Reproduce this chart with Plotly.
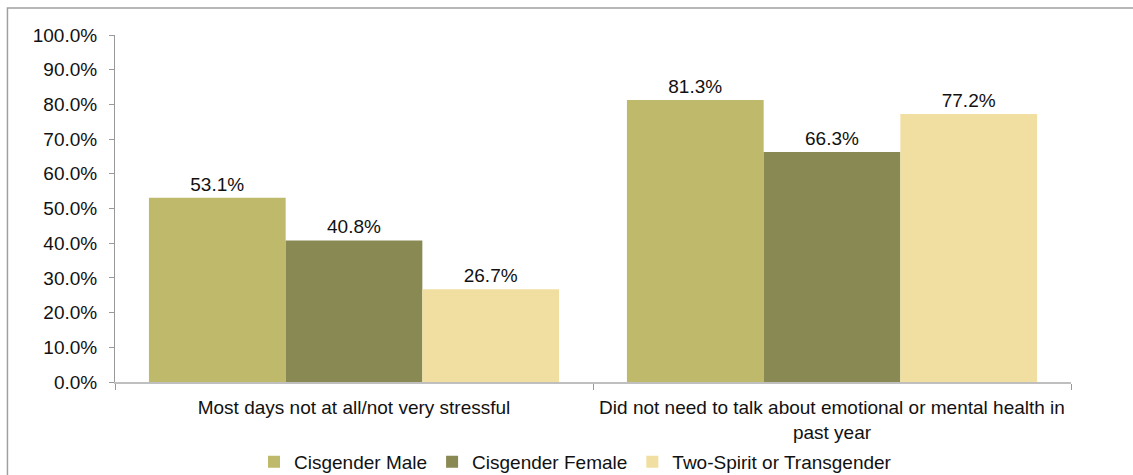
import plotly.graph_objects as go

categories = [
    "Most days not at all/not very stressful",
    "Did not need to talk about emotional or mental health in<br>past year",
]
series_names = ["Cisgender Male", "Cisgender Female", "Two-Spirit or Transgender"]
male = [0.531, 0.813]
female = [0.408, 0.663]
trans = [0.267, 0.772]
colors = ["#BFBA6B", "#898954", "#F1DFA1"]

FONT = "Liberation Sans, Arial, sans-serif"
FS = 19
fig = go.Figure()
for name, vals, col in zip(series_names, [male, female, trans], colors):
    fig.add_trace(go.Bar(
        x=categories, y=vals, name=name,
        marker=dict(color=col, line=dict(width=0)),
        texttemplate="%{y:.1%}", textposition="outside",
        textfont=dict(family=FONT, size=FS, color="#111"),
        cliponaxis=False,
    ))

fig.update_layout(
    width=1133, height=475,
    margin=dict(l=115, r=62, t=35, b=93, autoexpand=False),
    paper_bgcolor="white", plot_bgcolor="white",
    barmode="group", bargap=0.142, bargroupgap=0,
    font=dict(family=FONT, size=FS, color="#111"),
    showlegend=True,
    legend=dict(orientation="h", x=0.4817, xanchor="center", y=-0.23, yanchor="middle",
                font=dict(family=FONT, size=FS, color="#111"),
                itemwidth=30, tracegroupgap=0),
    xaxis=dict(showline=True, linecolor="#BFBFBF", linewidth=2, automargin=False,
               ticks="outside", tickson="boundaries", ticklen=6, tickcolor="#999",
               ticklabelstandoff=7,
               tickfont=dict(family=FONT, size=FS, color="#111"), showgrid=False),
    yaxis=dict(range=[0, 1], dtick=0.1, tickformat=".1%", showline=True, automargin=False,
               linecolor="#999", linewidth=1, ticks="outside", ticklen=5,
               tickcolor="#999", showgrid=False, zeroline=False, ticklabelstandoff=8,
               tickfont=dict(family=FONT, size=FS, color="#111")),
    shapes=[dict(type="rect", xref="paper", yref="paper",
                 x0=-0.1125, x1=1.3, y0=-0.6, y1=1.0775,
                 line=dict(color="#A0A0A0", width=1.5), layer="below")],
)
fig.write_html("out.html")
